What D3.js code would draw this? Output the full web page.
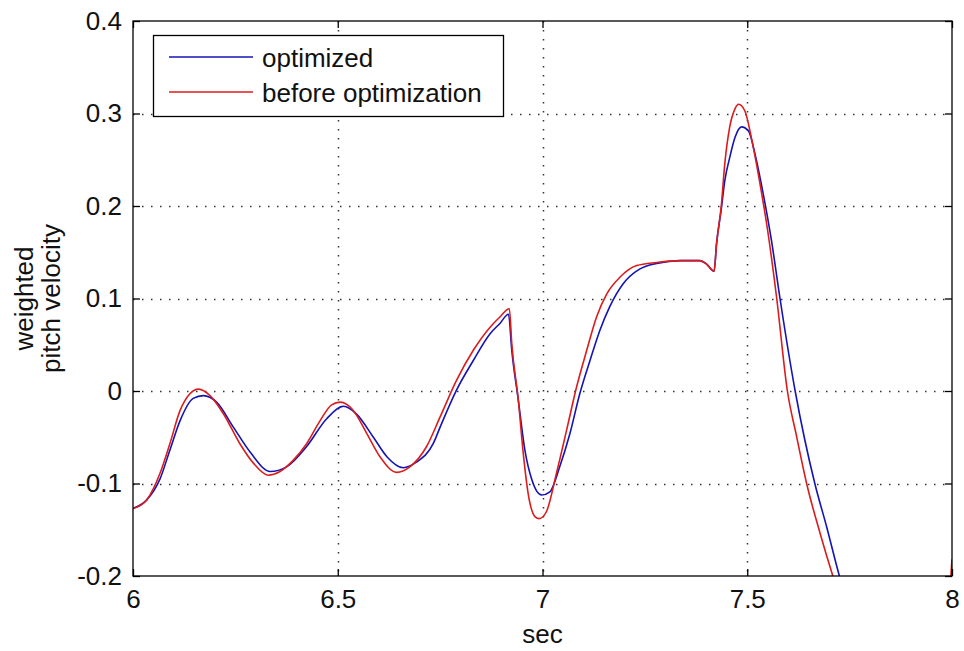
<!DOCTYPE html>
<html>
<head>
<meta charset="utf-8">
<script src="https://cdn.jsdelivr.net/npm/d3@7"></script>
<style>
  html, body { margin: 0; padding: 0; background: #fff; }
  svg { display: block; }
  text { font-family: "Liberation Sans", Arial, sans-serif; fill: #111; }
</style>
</head>
<body>
<svg id="chart" width="964" height="651"></svg>
<script>
// ---- data ----
const seriesNames = ["optimized", "before optimization"];
const xTicks = [6, 6.5, 7, 7.5, 8];
const xTickLabels = ["6", "6.5", "7", "7.5", "8"];
const yTicks = [-0.2, -0.1, 0, 0.1, 0.2, 0.3, 0.4];
const yTickLabels = ["-0.2", "-0.1", "0", "0.1", "0.2", "0.3", "0.4"];
const xLabel = "sec";
const yLabelLines = ["weighted", "pitch velocity"];

const optimizedT = [6.0, 6.033, 6.066, 6.09, 6.115, 6.147, 6.172, 6.204, 6.245, 6.286, 6.335, 6.375, 6.424, 6.473, 6.514, 6.546, 6.587, 6.62, 6.66, 6.692, 6.733, 6.75, 6.79, 6.831, 6.872, 6.896, 6.917, 6.925, 6.941, 6.957, 6.974, 6.998, 7.018, 7.042, 7.067, 7.091, 7.116, 7.14, 7.164, 7.197, 7.238, 7.279, 7.337, 7.384, 7.4, 7.419, 7.425, 7.437, 7.445, 7.457, 7.47, 7.486, 7.503, 7.519, 7.539, 7.559, 7.58, 7.617, 7.665, 7.694, 7.725, 7.76, 7.85, 8.0];
const optimizedV = [-0.127, -0.118, -0.095, -0.064, -0.032, -0.008, -0.005, -0.012, -0.039, -0.066, -0.087, -0.082, -0.06, -0.03, -0.0165, -0.025, -0.05, -0.071, -0.083, -0.077, -0.057, -0.039, 0.001, 0.033, 0.062, 0.073, 0.083, 0.044, -0.01, -0.064, -0.096, -0.1125, -0.109, -0.082, -0.046, -0.003, 0.033, 0.0655, 0.091, 0.116, 0.132, 0.138, 0.141, 0.141, 0.1375, 0.1295, 0.159, 0.198, 0.227, 0.252, 0.274, 0.2855, 0.281, 0.256, 0.213, 0.163, 0.10, 0.0, -0.1, -0.147, -0.2, -0.25, -0.33, -0.3];

const beforeT = [6.0, 6.033, 6.066, 6.09, 6.115, 6.139, 6.16, 6.188, 6.22, 6.261, 6.294, 6.33, 6.359, 6.391, 6.424, 6.457, 6.485, 6.506, 6.538, 6.571, 6.603, 6.644, 6.676, 6.717, 6.75, 6.79, 6.831, 6.872, 6.896, 6.919, 6.925, 6.941, 6.953, 6.965, 6.982, 6.992, 7.01, 7.034, 7.059, 7.083, 7.108, 7.132, 7.157, 7.189, 7.23, 7.279, 7.337, 7.384, 7.4, 7.419, 7.425, 7.437, 7.445, 7.457, 7.47, 7.479, 7.494, 7.51, 7.53, 7.551, 7.572, 7.598, 7.62, 7.645, 7.678, 7.709, 7.75, 7.85, 7.95, 7.99, 8.0];
const beforeV = [-0.127, -0.118, -0.089, -0.057, -0.021, -0.003, 0.002, -0.005, -0.024, -0.057, -0.078, -0.091, -0.087, -0.075, -0.057, -0.032, -0.015, -0.012, -0.021, -0.046, -0.071, -0.088, -0.082, -0.060, -0.028, 0.0115, 0.044, 0.069, 0.080, 0.089, 0.051, -0.010, -0.0675, -0.111, -0.136, -0.138, -0.130, -0.089, -0.042, 0.004, 0.044, 0.080, 0.105, 0.123, 0.1356, 0.139, 0.141, 0.141, 0.1375, 0.1295, 0.159, 0.202, 0.245, 0.285, 0.305, 0.310, 0.303, 0.274, 0.227, 0.170, 0.10, 0.0, -0.048, -0.1, -0.154, -0.2, -0.255, -0.34, -0.32, -0.24, -0.182];

const colors = ["#1414b4", "#dc1c1c"];

// ---- layout ----
const W = 964, H = 651;
const m = { left: 133, right: 12, top: 21, bottom: 75 };
const pw = W - m.left - m.right, ph = H - m.top - m.bottom;

const svg = d3.select("#chart");
const x = d3.scaleLinear().domain([6, 8]).range([m.left, m.left + pw]);
const y = d3.scaleLinear().domain([-0.2, 0.4]).range([m.top + ph, m.top]);

svg.append("rect").attr("x", 0).attr("y", 0).attr("width", W).attr("height", H).attr("fill", "#fff");

// grid
const grid = svg.append("g").attr("stroke", "#333").attr("stroke-width", 1.5).attr("stroke-dasharray", "1.5,7.5");
grid.selectAll("line.gx").data(xTicks.slice(1, -1)).join("line")
  .attr("x1", d => Math.round(x(d)) + 0.5).attr("x2", d => Math.round(x(d)) + 0.5)
  .attr("y1", m.top).attr("y2", m.top + ph);
grid.selectAll("line.gy").data(yTicks.slice(1, -1)).join("line")
  .attr("y1", d => Math.round(y(d)) + 0.5).attr("y2", d => Math.round(y(d)) + 0.5)
  .attr("x1", m.left).attr("x2", m.left + pw);

// clip
svg.append("clipPath").attr("id", "clip").append("rect")
  .attr("x", m.left).attr("y", m.top).attr("width", pw).attr("height", ph);

const line = d3.line().x(d => x(d[0])).y(d => y(d[1])).curve(d3.curveMonotoneX);
const series = [
  d3.zip(optimizedT, optimizedV),
  d3.zip(beforeT, beforeV)
];
svg.append("g").attr("clip-path", "url(#clip)")
  .selectAll("path").data(series).join("path")
  .attr("d", line).attr("fill", "none")
  .attr("stroke", (d, i) => colors[i]).attr("stroke-width", 1.6)
  .attr("stroke-linejoin", "round");

// axes (box with inward ticks on all sides)
const tl = 7;
const axB = svg.append("g").attr("transform", `translate(0,${m.top + ph})`)
  .call(d3.axisBottom(x).tickValues(xTicks).tickSize(-tl).tickFormat((d, i) => xTickLabels[i]).tickPadding(14));
const axT = svg.append("g").attr("transform", `translate(0,${m.top})`)
  .call(d3.axisTop(x).tickValues(xTicks).tickSize(-tl).tickFormat(""));
const axL = svg.append("g").attr("transform", `translate(${m.left},0)`)
  .call(d3.axisLeft(y).tickValues(yTicks).tickSize(-tl).tickFormat((d, i) => yTickLabels[i]).tickPadding(11));
const axR = svg.append("g").attr("transform", `translate(${m.left + pw},0)`)
  .call(d3.axisRight(y).tickValues(yTicks).tickSize(-tl).tickFormat(""));
[axB, axT, axL, axR].forEach(a => {
  a.select(".domain").remove();
  a.selectAll(".tick line").attr("stroke", "#000").attr("stroke-width", 1.3);
  a.selectAll("text").attr("font-size", 26).attr("fill", "#111")
    .attr("font-family", "'Liberation Sans', Arial, sans-serif");
});
svg.append("rect").attr("x", m.left).attr("y", m.top).attr("width", pw).attr("height", ph)
  .attr("fill", "none").attr("stroke", "#000").attr("stroke-width", 1.3);

// axis labels
svg.append("text").attr("x", x(7)).attr("y", 643).attr("text-anchor", "middle")
  .attr("font-size", 26).text(xLabel);
const yl = svg.append("text").attr("transform", `translate(33,${m.top + ph / 2}) rotate(-90)`)
  .attr("text-anchor", "middle").attr("font-size", 26);
yl.selectAll("tspan").data(yLabelLines).join("tspan")
  .attr("x", 0).attr("dy", (d, i) => i === 0 ? 0 : 27).text(d => d);

// legend
const lg = svg.append("g");
lg.append("rect").attr("x", 153.5).attr("y", 35.5).attr("width", 350).attr("height", 81)
  .attr("fill", "#fff").attr("stroke", "#000").attr("stroke-width", 1.3);
const rows = lg.selectAll("g.row").data(seriesNames).join("g")
  .attr("transform", (d, i) => `translate(0,${57 + i * 35})`);
rows.append("line").attr("x1", 169).attr("x2", 253).attr("y1", 0).attr("y2", 0)
  .attr("stroke", (d, i) => colors[i]).attr("stroke-width", 1.6);
rows.append("text").attr("x", 262).attr("y", 10).attr("font-size", 26).text(d => d);
</script>
</body>
</html>
